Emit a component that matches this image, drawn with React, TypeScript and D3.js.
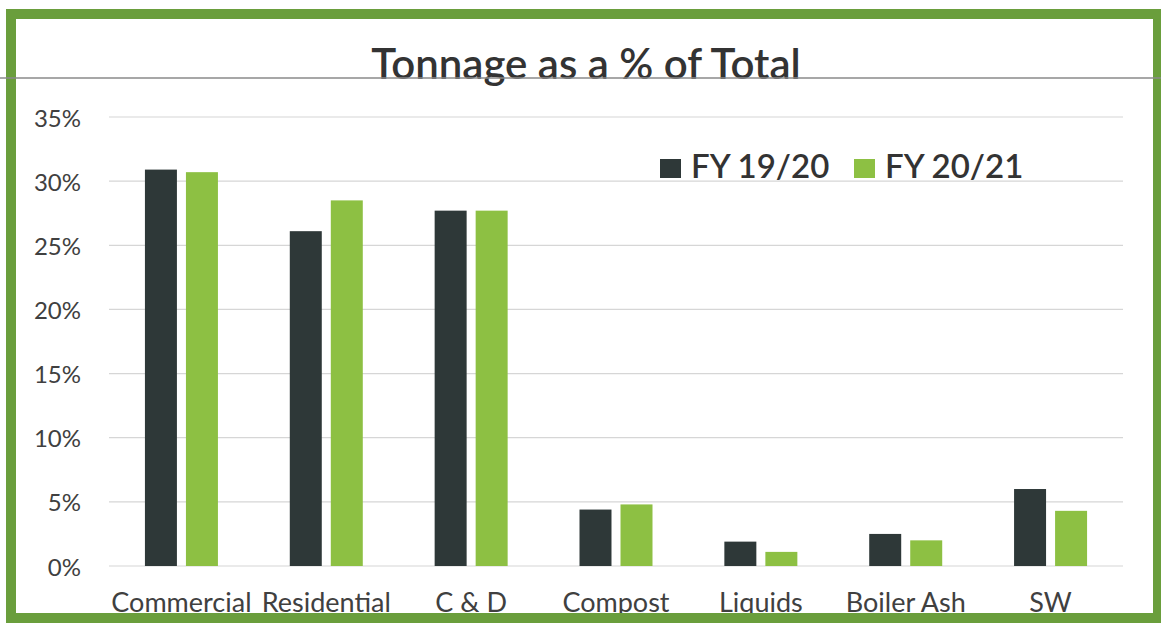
import React from "react";
import * as d3 from "d3";

const categories = ["Commercial", "Residential", "C & D", "Compost", "Liquids", "Boiler Ash", "SW"];
const seriesNames = ["FY 19/20", "FY 20/21"];
const fy1920 = [30.9, 26.1, 27.7, 4.4, 1.9, 2.5, 6.0];
const fy2021 = [30.7, 28.5, 27.7, 4.8, 1.1, 2.0, 4.3];
const yTicks = [0, 5, 10, 15, 20, 25, 30, 35];
const title = "Tonnage as a % of Total";

const W = 1161;
const H = 623;
const colors = ["#2e3838", "#8dc043"];
const FONT = "Lato, 'Open Sans', sans-serif";

export default function App() {
  const x = d3.scaleBand<string>().domain(categories).range([109, 1123]).paddingInner(0).paddingOuter(0);
  const x1 = d3.scaleBand<string>().domain(seriesNames).range([0, 73]).paddingInner(0.22);
  const y = d3.scaleLinear().domain([0, 35]).range([566, 117]);
  const series = [fy1920, fy2021];
  const groupOffset = (x.bandwidth() - 73) / 2;

  return (
    <svg width={W} height={H} style={{ position: "absolute", left: 0, top: 0, background: "#fff" }}>
      <rect x={0} y={0} width={W} height={H} fill="#fff" />
      {/* gridlines */}
      {yTicks.map((t) => (
        <line key={"g" + t} x1={109} x2={1123} y1={y(t)} y2={y(t)} stroke="#d6d6d6" strokeWidth={1.2} />
      ))}
      {/* y tick labels */}
      {yTicks.map((t) => (
        <text
          key={"t" + t}
          x={81}
          y={y(t)}
          textAnchor="end"
          dominantBaseline="central"
          fontFamily={FONT}
          fontSize={24}
          fill="#404040"
        >
          {t + "%"}
        </text>
      ))}
      {/* bars */}
      {categories.map((c, i) =>
        series.map((s, j) => (
          <rect
            key={c + j}
            x={(x(c) as number) + groupOffset + (x1(seriesNames[j]) as number)}
            y={y(s[i])}
            width={x1.bandwidth()}
            height={y(0) - y(s[i])}
            fill={colors[j]}
          />
        ))
      )}
      {/* category labels */}
      {categories.map((c) => (
        <text
          key={"c" + c}
          x={(x(c) as number) + x.bandwidth() / 2}
          y={612}
          textAnchor="middle"
          fontFamily={FONT}
          fontSize={27}
          fill="#404040"
        >
          {c}
        </text>
      ))}
      {/* title */}
      <text x={586} y={79} textAnchor="middle" fontFamily={FONT} fontSize={42} fontWeight={600} fill="#333">
        {title}
      </text>
      {/* legend */}
      {seriesNames.map((n, j) => (
        <g key={"l" + n} transform={`translate(${660 + j * 194},0)`}>
          <rect x={0} y={159} width={21} height={19} fill={colors[j]} />
          <text x={31} y={178} fontFamily={FONT} fontSize={33} fontWeight={600} fill="#333">
            {n}
          </text>
        </g>
      ))}
      {/* frame */}
      <rect x={11} y={14} width={1147} height={604} fill="none" stroke="#6a9e3c" strokeWidth={10} />
      {/* scan line */}
      <line x1={0} x2={W} y1={78} y2={78} stroke="#8a8a8a" strokeWidth={1.3} />
    </svg>
  );
}
